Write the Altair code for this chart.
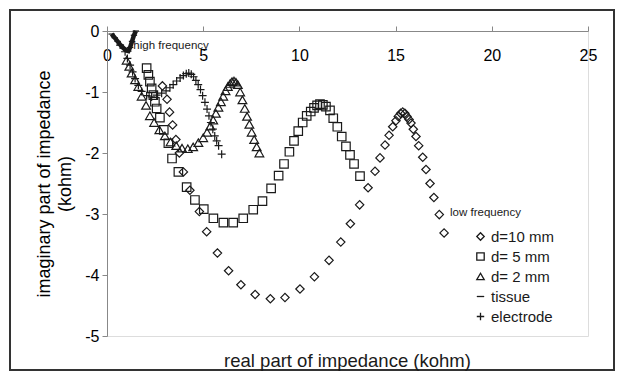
import altair as alt
import pandas as pd

# ---- data ----
series_names = ["d=10 mm", "d= 5 mm", "d= 2 mm", "tissue", "electrode"]

d10_x = [2.88, 3.12, 3.25, 3.41, 3.58, 3.76, 3.97, 4.31, 4.8, 5.18, 5.74, 6.32, 6.96, 7.7, 8.49,
         9.25, 10.03, 10.78, 11.54, 12.15, 12.65, 13.13, 13.57, 13.93, 14.19, 14.45, 14.66, 14.85,
         15.02, 15.14, 15.26, 15.37, 15.48, 15.59, 15.7, 15.8, 15.92, 16.06, 16.2, 16.41, 16.58,
         16.79, 16.99, 17.27, 17.52]
d10_y = [-0.90, -1.12, -1.33, -1.54, -1.78, -2.00, -2.31, -2.61, -2.96, -3.29, -3.64, -3.93, -4.16,
         -4.32, -4.39, -4.37, -4.23, -4.03, -3.76, -3.46, -3.16, -2.85, -2.57, -2.30, -2.08, -1.87,
         -1.71, -1.57, -1.47, -1.40, -1.35, -1.33, -1.35, -1.40, -1.45, -1.51, -1.61, -1.73, -1.88,
         -2.07, -2.27, -2.50, -2.73, -3.01, -3.31]

d5_x = [2.06, 2.15, 2.23, 2.32, 2.41, 2.49, 2.58, 2.75, 2.95, 3.19, 3.38, 3.71, 4.14, 4.57, 5.03,
        5.53, 6.05, 6.56, 7.08, 7.6, 8.08, 8.53, 8.92, 9.2, 9.48, 9.72, 9.94, 10.17, 10.38, 10.59,
        10.76, 10.92, 11.07, 11.22, 11.38, 11.59, 11.76, 11.97, 12.2, 12.42, 12.63, 12.84, 13.15]
d5_y = [-0.61, -0.72, -0.83, -0.94, -1.05, -1.16, -1.27, -1.42, -1.62, -1.84, -2.09, -2.31, -2.56,
        -2.77, -2.92, -3.07, -3.14, -3.14, -3.07, -2.93, -2.79, -2.58, -2.37, -2.18, -1.98, -1.80,
        -1.64, -1.50, -1.39, -1.32, -1.26, -1.22, -1.20, -1.21, -1.24, -1.30, -1.43, -1.57, -1.73,
        -1.89, -2.03, -2.18, -2.38]

d2_x = [1.02, 1.16, 1.28, 1.46, 1.63, 1.8, 2.03, 2.23, 2.45, 2.72, 3.01, 3.3, 3.6, 3.9, 4.2, 4.48,
        4.75, 5.0, 5.2, 5.37, 5.52, 5.66, 5.79, 5.92, 6.04, 6.16, 6.28, 6.4, 6.5, 6.6, 6.7, 6.8,
        6.92, 7.04, 7.16, 7.28, 7.4, 7.52, 7.65, 7.78, 7.92]
d2_y = [-0.48, -0.58, -0.69, -0.80, -0.91, -1.07, -1.22, -1.39, -1.50, -1.62, -1.72, -1.82, -1.88,
        -1.92, -1.93, -1.90, -1.83, -1.75, -1.66, -1.56, -1.46, -1.35, -1.25, -1.16, -1.07, -0.98,
        -0.91, -0.86, -0.83, -0.82, -0.84, -0.88, -1.00, -1.13, -1.27, -1.40, -1.53, -1.66, -1.78,
        -1.90, -2.00]

tissue_x = [0.24, 0.4, 0.55, 0.7, 0.85, 1.0, 1.11, 1.2, 1.3, 1.4, 1.5]
tissue_y = [-0.05, -0.11, -0.17, -0.23, -0.28, -0.32, -0.33, -0.27, -0.17, -0.07, 0.0]

elec_x = [0.68, 0.94, 1.06, 1.2, 1.33, 1.46, 1.63, 1.8, 2.06, 2.32, 2.58, 2.84, 3.07, 3.27, 3.44,
          3.62, 3.8, 3.97, 4.12, 4.25, 4.38, 4.5, 4.62, 4.74, 4.86, 4.97, 5.09, 5.2, 5.3, 5.4,
          5.5, 5.6, 5.7, 5.8, 5.96]
elec_y = [-0.23, -0.34, -0.45, -0.56, -0.67, -0.78, -0.89, -0.99, -1.06, -1.08, -1.05, -1.02,
          -0.98, -0.93, -0.88, -0.82, -0.77, -0.73, -0.70, -0.69, -0.71, -0.75, -0.81, -0.88,
          -0.96, -1.06, -1.17, -1.28, -1.39, -1.50, -1.61, -1.72, -1.80, -1.88, -2.02]

note_text = ["high frequency", "low frequency"]
note_x = [1.37, 17.83]
note_y = [-0.25, -2.98]

x_ticks = [0, 5, 10, 15, 20, 25]
y_ticks = [0, -1, -2, -3, -4, -5]

# ---- tables ----
shape_range = ["diamond", "square", "triangle-up", "stroke", "M-1,0L1,0M0,-1L0,1"]
size_range = [70, 72, 76, 40, 64]

rows = []
for k, (xs, ys) in enumerate([(d10_x, d10_y), (d5_x, d5_y), (d2_x, d2_y),
                              (tissue_x, tissue_y), (elec_x, elec_y)]):
    for i, (a, b) in enumerate(zip(xs, ys)):
        rows.append({"series": series_names[k], "re": a, "im": b, "i": i, "sz": size_range[k]})
df = pd.DataFrame(rows)
notes = pd.DataFrame({"text": note_text, "re": note_x, "im": note_y})

FONT = "Liberation Sans"
INK = "#1a1a1a"
W, H = 481, 305

xscale = alt.Scale(domain=[0, 25], nice=False, zero=False)
yscale = alt.Scale(domain=[-5, 0], nice=False)

x_enc = alt.X("re:Q", scale=xscale,
              axis=alt.Axis(orient="top", values=x_ticks, title=None, grid=False,
                            labelFlush=False, labelBaseline="top", labelPadding=-21,
                            labelFontSize=16, tickSize=5))
y_enc = alt.Y("im:Q", scale=yscale,
              axis=alt.Axis(orient="left", values=y_ticks, grid=False,
                            title=["imaginary part of impedance", "(kohm)"],
                            titleFontSize=18, titleFontWeight="normal", titlePadding=10,
                            titleLineHeight=21,
                            labelExpr="'' + datum.value", labelFontSize=16,
                            labelPadding=3, tickSize=5, labelFlush=False))

points = alt.Chart(df).mark_point(filled=False, color=INK, strokeWidth=1.2, opacity=1).encode(
    x=x_enc, y=y_enc,
    shape=alt.Shape("series:N", scale=alt.Scale(domain=series_names, range=shape_range),
                    legend=alt.Legend(title=None, orient="none", legendX=366, legendY=198,
                                      labelFontSize=15, labelFont=FONT, labelColor=INK,
                                      symbolSize=55, symbolStrokeWidth=1.3,
                                      symbolStrokeColor=INK, labelOffset=3, rowPadding=4,
                                      padding=0)),
    size=alt.Size("sz:Q", scale=None, legend=None),
)

tissue_line = alt.Chart(df).transform_filter(alt.datum.series == "tissue").mark_line(
    color=INK, strokeWidth=4.5).encode(x="re:Q", y="im:Q", order="i:Q")

note_marks = alt.Chart(notes).mark_text(align="left", baseline="middle", fontSize=11.5,
                                        font=FONT, color=INK).encode(
    x="re:Q", y="im:Q", text="text:N")

frame = alt.Chart(alt.Data(values=[{}])).mark_rect(
    fill=None, stroke="#333", strokeWidth=2).encode(
    x=alt.value(-97), x2=alt.value(W + 26), y=alt.value(-21), y2=alt.value(H + 34))

chart = alt.layer(frame, tissue_line, points, note_marks).properties(
    width=W, height=H,
    autosize=alt.AutoSizeParams(type="none"),
    padding={"left": 99, "top": 23, "right": 28, "bottom": 36},
    title=alt.TitleParams("real part of impedance (kohm)", orient="bottom", frame="group",
                          offset=-19, fontSize=18.5, fontWeight="normal", font=FONT, color=INK),
).configure_view(
    stroke="#555", strokeDash=[1, 1], strokeWidth=1
).configure_axis(
    labelFont=FONT, titleFont=FONT, labelColor=INK, titleColor=INK,
    domainColor=INK, tickColor=INK, domainWidth=1.2, tickWidth=1.2
).configure(background="white")

chart.save("out.html", embed_options={"renderer": "svg", "actions": False})
